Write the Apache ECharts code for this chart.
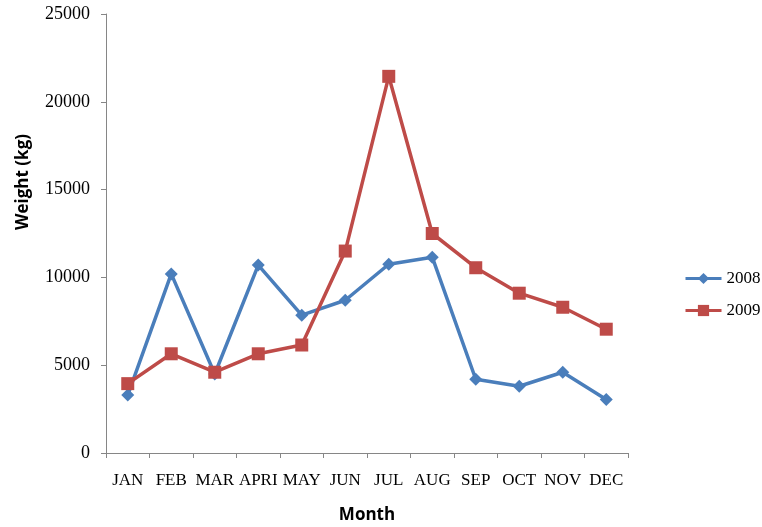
<!DOCTYPE html>
<html>
<head>
	<meta charset="utf-8">
	<title>Weight by month</title>
	<script src="https://cdn.jsdelivr.net/npm/echarts@6/dist/echarts.min.js"></script>
	<style>
		body { margin: 0; background: #fff; }
		#chart { width: 762px; height: 527px; }
	</style>
</head>
<body>
	<div id="chart"></div>
	<script type="text/javascript">
	// months on the x axis
	var months = ['JAN', 'FEB', 'MAR', 'APRI', 'MAY', 'JUN', 'JUL', 'AUG', 'SEP', 'OCT', 'NOV', 'DEC'];
	// weight (kg)
	var w2008 = [3300, 10200, 4500, 10700, 7850, 8700, 10750, 11150, 4200, 3800, 4600, 3050];
	var w2009 = [3950, 5650, 4600, 5650, 6150, 11500, 21450, 12500, 10550, 9100, 8300, 7050];

	var serif = 'Liberation Serif';
	var sans = 'Open Sans';

	var myChart = echarts.init(document.getElementById('chart'));
	myChart.setOption({
		animation: false,
		backgroundColor: '#fff',
		grid: { left: 106, right: 134, top: 14, bottom: 74, containLabel: false, outerBoundsMode: 'none' },
		legend: {
			orient: 'vertical',
			left: 679,
			top: 265,
			itemWidth: 36,
			itemHeight: 14,
			itemGap: 15,
			lineStyle: { width: 3 },
			textStyle: { fontFamily: serif, fontSize: 17, color: '#000' },
			data: ['2008', '2009']
		},
		graphic: [{
			type: 'text',
			left: 15,
			top: 134,
			rotation: Math.PI / 2,
			style: {
				text: 'Weight (kg)',
				fontFamily: sans,
				fontWeight: 'bold',
				fontSize: 17,
				fill: '#000'
			}
		}],
		xAxis: {
			type: 'category',
			data: months,
			boundaryGap: true,
			name: 'Month',
			nameLocation: 'middle',
			nameGap: 54,
			nameTextStyle: { fontFamily: sans, fontWeight: 'bold', fontSize: 17, color: '#000' },
			axisLine: { lineStyle: { color: '#868686', width: 1 } },
			axisTick: { show: true, length: 5, lineStyle: { color: '#868686' } },
			axisLabel: { fontFamily: serif, fontSize: 17, color: '#000', margin: 19, interval: 0 }
		},
		yAxis: {
			type: 'value',
			min: 0,
			max: 25000,
			interval: 5000,
			axisLine: { show: true, lineStyle: { color: '#868686', width: 1 } },
			axisTick: { show: true, length: 5, lineStyle: { color: '#868686' } },
			splitLine: { show: false },
			axisLabel: {
				fontFamily: serif, fontSize: 18, color: '#000', margin: 16,
				formatter: function (v) { return String(v); }
			}
		},
		series: [{
			name: '2008',
			type: 'line',
			data: w2008,
			symbol: 'diamond',
			symbolSize: 13,
			lineStyle: { color: '#4a7ebb', width: 3.5 },
			itemStyle: { color: '#4a7ebb' }
		}, {
			name: '2009',
			type: 'line',
			data: w2009,
			symbol: 'rect',
			symbolSize: 13,
			lineStyle: { color: '#be4b48', width: 3.5 },
			itemStyle: { color: '#be4b48' }
		}]
	});
	</script>
</body>
</html>
